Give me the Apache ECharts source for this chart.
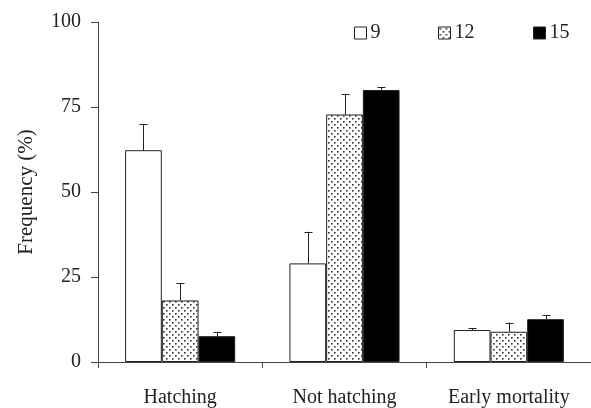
<!DOCTYPE html>
<html><head><meta charset="utf-8">
<script src="https://cdn.jsdelivr.net/npm/echarts@6/dist/echarts.min.js"></script>
<style>html,body{margin:0;padding:0;background:#fff}#c{width:591px;height:408px}</style>
</head><body><div id="c"></div>
<script>
const categories = ['Hatching', 'Not hatching', 'Early mortality'];
const seriesNames = ['9', '12', '15'];
const mean9 = [62.3, 29.0, 9.4];
const mean12 = [18.1, 72.8, 8.9];
const mean15 = [7.6, 80.0, 12.6];
const upper9 = [69.9, 38.3, 9.9];
const upper12 = [23.1, 78.8, 11.6];
const upper15 = [8.9, 80.9, 13.8];
const yTicks = [0, 25, 50, 75, 100];

const FONT = 'Liberation Serif';
const INK = '#222';

// dotted pattern
const pc = document.createElement('canvas');
pc.width = 6; pc.height = 6;
const px = pc.getContext('2d');
px.fillStyle = '#fff'; px.fillRect(0, 0, 6, 6);
px.fillStyle = '#333';
px.fillRect(1, 1, 1.6, 1.6);
px.fillRect(4, 4, 1.6, 1.6);

const fills = ['#ffffff', { image: pc, repeat: 'repeat' }, '#000000'];
const means = [mean9, mean12, mean15];
const uppers = [upper9, upper12, upper15];
const GAP = 0.33;

const barSeries = seriesNames.map((n, i) => ({
  name: n, type: 'bar', data: means[i],
  barCategoryGap: '33%', barGap: '0%',
  itemStyle: { color: fills[i], borderColor: INK, borderWidth: 1 },
  z: 2
}));

const errData = [];
seriesNames.forEach((n, s) => {
  categories.forEach((c, k) => errData.push([k, means[s][k], uppers[s][k], s]));
});

const errSeries = {
  type: 'custom', z: 3, silent: true,
  data: errData,
  encode: { x: 0, y: [1, 2] },
  renderItem: function (params, api) {
    const k = api.value(0), m = api.value(1), u = api.value(2), s = api.value(3);
    const band = api.size([1, 0])[0];
    const groupW = band * (1 - GAP);
    const bw = groupW / 3;
    const c = api.coord([k, m]);
    const cu = api.coord([k, u]);
    const x = Math.round(c[0] - groupW / 2 + bw * (s + 0.5)) + 0.5;
    const cap = 4;
    const style = { stroke: INK, lineWidth: 1 };
    return { type: 'group', children: [
      { type: 'line', shape: { x1: x, y1: c[1], x2: x, y2: cu[1] }, style: style },
      { type: 'line', shape: { x1: x - cap, y1: Math.round(cu[1]) + 0.5, x2: x + cap, y2: Math.round(cu[1]) + 0.5 }, style: style }
    ] };
  }
};

const legendLefts = [354, 438, 533];
const legends = seriesNames.map((n, i) => ({
  data: [{ name: n, icon: 'rect' }], left: legendLefts[i], top: 23, itemWidth: 12, itemHeight: 12, itemGap: 0,
  textStyle: { fontFamily: FONT, fontSize: 20, color: INK, padding: [0, 0, 0, -1] },
  itemStyle: { borderColor: INK, borderWidth: 1 },
  padding: 0, selectedMode: false
}));

const chart = echarts.init(document.getElementById('c'), null, { renderer: 'canvas' });
chart.setOption({
  animation: false,
  backgroundColor: '#fff',
  legend: legends,
  grid: { left: 98, top: 22, right: -2, bottom: 46, containLabel: false },
  xAxis: {
    type: 'category', data: categories, boundaryGap: true,
    axisLine: { lineStyle: { color: '#444', width: 1 } },
    axisTick: { show: true, length: 6, alignWithLabel: false, lineStyle: { color: '#444' } },
    axisLabel: { fontFamily: FONT, fontSize: 20, color: INK, margin: 26 },
    splitLine: { show: false }
  },
  yAxis: {
    type: 'value', min: yTicks[0], max: yTicks[yTicks.length - 1], interval: 25,
    name: 'Frequency (%)', nameLocation: 'middle', nameGap: 61, nameRotate: 90,
    nameTextStyle: { fontFamily: FONT, fontSize: 21, color: INK },
    axisLine: { show: true, lineStyle: { color: '#444', width: 1 } },
    axisTick: { show: true, length: 7, lineStyle: { color: '#444' } },
    axisLabel: { fontFamily: FONT, fontSize: 20, color: INK, margin: 17 },
    splitLine: { show: false }
  },
  series: barSeries.concat([errSeries])
});
</script></body></html>
